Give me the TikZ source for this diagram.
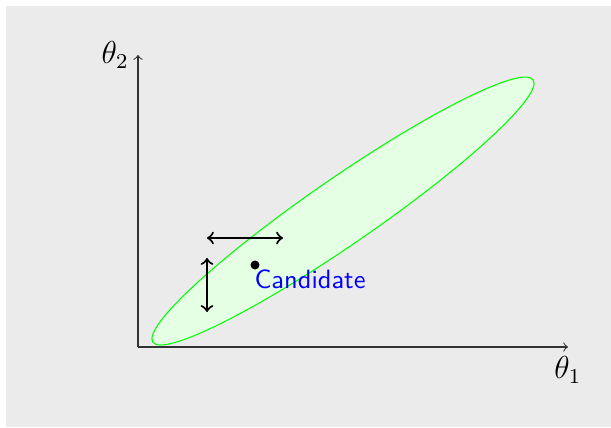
\documentclass[tikz,border=0pt]{standalone}
\usepackage{tikz}
\definecolor{bggray}{RGB}{235,235,235}
\begin{document}
\begin{tikzpicture}[x=0.378pt,y=-0.378pt,
  axis/.style={draw=black!80,->},
  move/.style={draw=black,thick,<->},
  region/.style={draw=green,fill=green!10},
  axlbl/.style={font=\large},
  lbl/.style={inner sep=0pt,text=blue,font=\sffamily}]
\useasboundingbox (0,0) rectangle (611,427);
\fill[white] (0,0) rectangle (611,427);
\fill[bggray] (6,6) rectangle (611,427);
\coordinate (c) at (343,211);
\path[region, rotate around={34.6:(c)}] (c) ellipse [x radius=87.3pt, y radius=12.5pt];
\coordinate (o) at (138,347);
\coordinate (yt) at (138,55);
\coordinate (xt) at (568,347);
\draw[axis] (o) -- (yt);
\draw[axis] (o) -- (xt);
\node[axlbl,left] (t2) at (yt) {$\theta_2$};
\node[axlbl,below] (t1) at (xt) {$\theta_1$};
\coordinate (h1) at (207,238);
\coordinate (h2) at (283,238);
\coordinate (v1) at (207,258);
\coordinate (v2) at (207,312);
\draw[move] (h1) -- (h2);
\draw[move] (v1) -- (v2);
\fill (255,265) circle[radius=1.7pt];
\node[lbl,anchor=base west] (cand) at (254,288) {Candidate};
\end{tikzpicture}
\end{document}
